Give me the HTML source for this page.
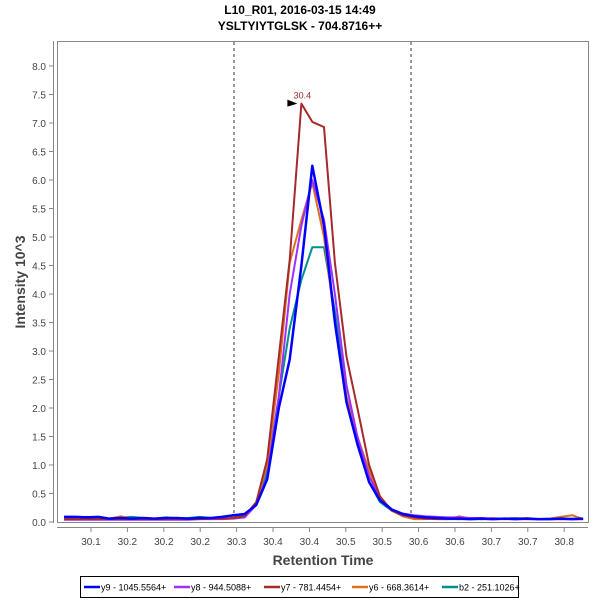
<!DOCTYPE html>
<html><head><meta charset="utf-8"><style>
body{margin:0;background:#fff;}
svg{display:block;font-family:"Liberation Sans",sans-serif;}
</style></head><body>
<svg id="chart" width="600" height="600">
<text x="300" y="14" text-anchor="middle" font-size="12" font-weight="bold" fill="#000">L10_R01, 2016-03-15 14:49</text>
<text x="300" y="30" text-anchor="middle" font-size="12" font-weight="bold" fill="#000">YSLTYIYTGLSK - 704.8716++</text>
<rect x="57.5" y="41.5" width="531" height="481" fill="#fff" stroke="#888"/>
<line x1="53.5" y1="41" x2="53.5" y2="523" stroke="#888"/>
<line x1="57" y1="527.5" x2="588" y2="527.5" stroke="#888"/>
<g id="yticks"></g><g id="xticks"></g><g id="vlines"></g><g id="series"></g><g id="annot"></g>
<text transform="translate(25,282) rotate(-90)" text-anchor="middle" font-size="14" font-weight="bold" fill="#444">Intensity 10^3</text>
<text x="323" y="565" text-anchor="middle" font-size="14" font-weight="bold" fill="#444">Retention Time</text>
<g id="legend"><rect x="80.5" y="576.5" width="438" height="21" fill="#fff" stroke="#000"/></g>
</svg>
<script>
const times=[30.063,30.079,30.094,30.110,30.125,30.141,30.156,30.172,30.187,30.203,30.218,30.234,30.249,30.265,30.280,30.296,30.311,30.327,30.342,30.358,30.373,30.389,30.404,30.420,30.435,30.451,30.466,30.482,30.497,30.513,30.528,30.544,30.559,30.575,30.590,30.606,30.621,30.637,30.652,30.668,30.683,30.699,30.714,30.730,30.745,30.761,30.776];
const teal=[.09,.08,.09,.07,.06,.08,.09,.07,.06,.08,.06,.07,.09,.07,.08,.1,.1,.35,.9,2.2,3.4,4.25,4.82,4.82,3.7,2.2,1.35,.7,.35,.2,.12,.08,.07,.06,.06,.05,.06,.05,.06,.06,.07,.06,.05,.06,.05,.06,.05];
const orange=[.05,.05,.06,.05,.06,.1,.06,.05,.06,.07,.05,.06,.06,.05,.07,.08,.08,.35,1.0,2.6,4.55,5.3,5.95,5.0,3.5,2.2,1.5,.9,.42,.2,.1,.05,.05,.06,.05,.1,.06,.05,.07,.05,.06,.07,.05,.06,.09,.12,.05];
const red=[.05,.05,.05,.05,.05,.05,.05,.05,.05,.05,.05,.05,.05,.06,.06,.07,.1,.35,1.1,2.9,4.6,7.34,7.02,6.93,4.55,2.9,2.0,1.0,.45,.2,.12,.08,.06,.05,.05,.05,.05,.05,.05,.05,.05,.05,.05,.05,.05,.05,.05];
const purple=[.04,.04,.04,.04,.04,.04,.04,.04,.04,.04,.04,.04,.05,.05,.05,.06,.08,.3,.8,2.2,4.0,5.2,6.0,5.3,4.0,2.4,1.5,.8,.42,.22,.15,.12,.1,.09,.08,.08,.07,.07,.06,.06,.06,.05,.05,.05,.05,.05,.05];
const blue=[.09,.09,.08,.09,.06,.07,.06,.07,.06,.07,.07,.06,.07,.07,.09,.12,.14,.3,.75,2.0,2.85,4.5,6.25,5.2,3.5,2.1,1.37,.7,.38,.22,.14,.1,.08,.07,.06,.06,.05,.06,.05,.06,.05,.06,.05,.05,.06,.05,.06];
const seriesNames=["y9 - 1045.5564+","y8 - 944.5088+","y7 - 781.4454+","y6 - 668.3614+","b2 - 251.1026+"];
const seriesColors=["#0000ff","#9b30ff","#a52a2a","#e07020","#009090"];
const yTicks=[0,0.5,1,1.5,2,2.5,3,3.5,4,4.5,5,5.5,6,6.5,7,7.5,8];
const xTickVals=[30.10,30.15,30.20,30.25,30.30,30.35,30.40,30.45,30.50,30.55,30.60,30.65,30.70,30.75];
const xTickLabels=["30.1","30.2","30.2","30.2","30.3","30.4","30.4","30.5","30.5","30.6","30.6","30.7","30.7","30.8"];
const boundaries=[30.2964,30.5396];
const peakTime=30.389, peakValue=7.34, peakLabel="30.4";
const NS="http://www.w3.org/2000/svg";
const X=t=>57+(t-30.0533)/(30.7827-30.0533)*531;
const Y=v=>522-v*57;
function mk(tag,attrs,parent){const e=document.createElementNS(NS,tag);for(const k in attrs)e.setAttribute(k,attrs[k]);parent.appendChild(e);return e;}
const yg=document.getElementById('yticks');
yTicks.forEach(v=>{
  const l=mk('line',{x1:49,x2:53,y1:Y(v),y2:Y(v),stroke:'#888'},yg);
  
  
  const t=mk('text',{x:46,y:Y(v)+4,'text-anchor':'end','font-size':10,fill:'#444'},yg);t.textContent=v.toFixed(1);
  
  
});
const xg=document.getElementById('xticks');
xTickVals.forEach((v,i)=>{
  const l=mk('line',{x1:X(v),x2:X(v),y1:528,y2:532,stroke:'#888'},xg);
  
  
  const t=mk('text',{x:X(v),y:545,'text-anchor':'middle','font-size':10,fill:'#444'},xg);t.textContent=xTickLabels[i];
  
  
});
const vg=document.getElementById('vlines');
boundaries.forEach(b=>{
  const l=mk('line',{x1:X(b),x2:X(b),y1:42,y2:522,stroke:'#333','stroke-dasharray':'3,3'},vg);
  
  
});
const sg=document.getElementById('series');
const data=[blue,purple,red,orange,teal];
const order=[4,3,1,2,0];
order.forEach(si=>{
  const pts=data[si].map((v,i)=>X(times[i]).toFixed(1)+','+Y(v).toFixed(1)).join(' ');
  const p=mk('polyline',{points:pts,fill:'none',stroke:seriesColors[si],'stroke-width':si===0?2.5:2,'stroke-linejoin':'round'},sg);
  
  
});
const ag=document.getElementById('annot');
const px=X(peakTime), py=Y(peakValue);
const tri=mk('polygon',{points:`${px-14},${py-4} ${px-4},${py} ${px-14},${py+3}`,fill:'#000'},ag);


const pl=mk('text',{x:px+1,y:py-5,'text-anchor':'middle','font-size':9,fill:'#a52a2a'},ag);pl.textContent=peakLabel;


const lg=document.getElementById('legend');
const lx=[84,174,264,352,442];
seriesNames.forEach((n,i)=>{
  const l=mk('line',{x1:lx[i],x2:lx[i]+16,y1:587,y2:587,stroke:seriesColors[i],'stroke-width':2.5},lg);
  
  
  const t=mk('text',{x:lx[i]+17,y:590.5,'font-size':9,fill:'#000'},lg);t.textContent=n;
  
  
});
</script>
</body></html>
